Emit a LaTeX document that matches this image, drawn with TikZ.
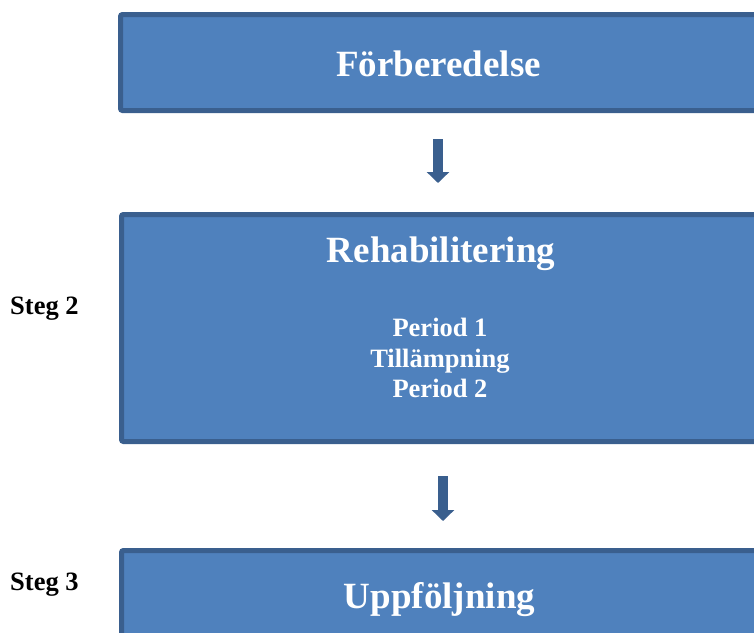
\documentclass[tikz,border=0pt]{standalone}
\usepackage{fontspec}
\setmainfont{Liberation Serif}
\usetikzlibrary{arrows.meta}
\definecolor{boxfill}{HTML}{4F81BD}
\definecolor{boxline}{HTML}{3A5F8E}
\begin{document}
\begin{tikzpicture}[x=1pt,y=-1pt,
  stage/.style={draw=boxline, fill=boxfill, line width=5pt, rounded corners=2pt, inner sep=0pt},
  title/.style={text=white, font=\bfseries\fontsize{37}{44}\selectfont, anchor=base, inner sep=0pt},
  sub/.style={text=white, font=\bfseries\fontsize{26.5}{30.5}\selectfont, anchor=base, inner sep=0pt},
  steg/.style={text=black, font=\bfseries\fontsize{26.5}{30}\selectfont, anchor=base west, inner sep=0pt},
  flow/.style={draw=boxline, line width=10.5pt, -{Triangle[length=11pt,width=22pt]}}
]
\useasboundingbox (0,0) rectangle (754,632);
\begin{scope}
\clip (0,0) rectangle (754,632);
\node[stage, minimum width=641.5pt, minimum height=96pt] (b1) at (441.25,62.5) {};
\node[stage, minimum width=640.5pt, minimum height=227pt] (b2) at (441.75,328) {};
\node[stage, minimum width=640.5pt, minimum height=109.5pt] (b3) at (441.75,605.25) {};
\end{scope}
\node[title] (t1) at (438.5,76) {Förberedelse};
\node[title] (t2) at (441,262) {Rehabilitering};
\node[sub] (p1) at (440,336.5) {Period 1};
\node[sub] (p2) at (440,367.5) {Tillämpning};
\node[sub] (p3) at (440,397) {Period 2};
\node[title] (t3) at (439.5,608) {Uppföljning};
\node[steg] (s2) at (10,314) {Steg 2};
\node[steg] (s3) at (10,590) {Steg 3};
\coordinate (a1s) at (438,139);
\coordinate (a1e) at (438,183);
\coordinate (a2s) at (443,476);
\coordinate (a2e) at (443,521);
\draw[flow] (a1s) -- (a1e);
\draw[flow] (a2s) -- (a2e);
\end{tikzpicture}
\end{document}
